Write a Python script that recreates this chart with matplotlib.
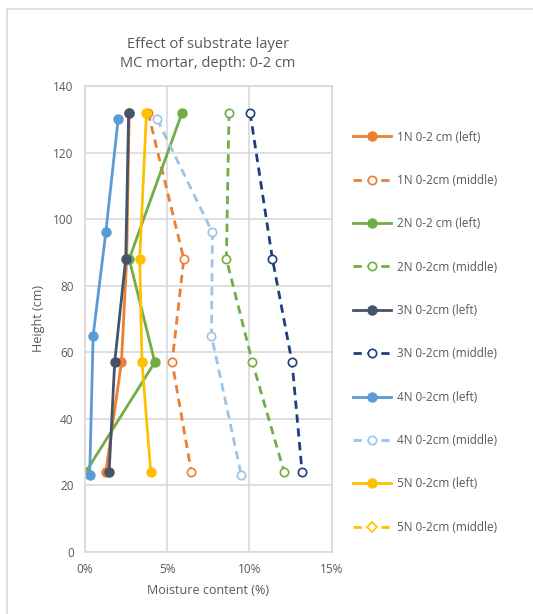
import matplotlib.pyplot as plt
from matplotlib.lines import Line2D
from matplotlib.ticker import FuncFormatter

plt.rcParams['font.family'] = ['Open Sans', 'DejaVu Sans']

# heights (cm) and moisture content (%)
h4 = [132, 88, 57, 24]
h_4n = [130, 96, 65, 23]

n1_left = [2.7, 2.55, 2.23, 1.28]
n1_mid = [3.85, 6.02, 5.31, 6.48]
n2_left = [5.92, 2.7, 4.26, 0.06]
n2_mid = [8.77, 8.61, 10.19, 12.12]
n3_left = [2.67, 2.49, 1.82, 1.48]
n3_mid = [10.05, 11.41, 12.6, 13.21]
n4_left = [2.03, 1.28, 0.51, 0.3]
n4_mid = [4.4, 7.76, 7.7, 9.52]
n5_left = [3.75, 3.34, 3.48, 4.01]
n5_mid = []
h_5mid = []

labels = ["1N 0-2 cm (left)", "1N 0-2cm (middle)", "2N 0-2 cm (left)", "2N 0-2cm (middle)",
          "3N 0-2cm (left)", "3N 0-2cm (middle)", "4N 0-2cm (left)", "4N 0-2cm (middle)",
          "5N 0-2cm (left)", "5N 0-2cm (middle)"]

fig = plt.figure(figsize=(5.33, 6.14), dpi=100)
ax = fig.add_axes([0.159, 0.101, 0.463, 0.759])

orange = "#ED7D31"
green = "#70AD47"
navy = "#44546A"
dnavy = "#1F3F7A"
lblue = "#5B9BD5"
llblue = "#9DC3E6"
yellow = "#FFC000"

solid = dict(lw=2, marker="o", ms=6.5)
dashed = dict(lw=2, ls=(0, (3, 2)), marker="o", ms=6, mfc="white", mew=1.2)

ax.plot(n1_left, h4, color=orange, label=labels[0], **solid)
ax.plot(n1_mid, h4, color=orange, label=labels[1], **dashed)
ax.plot(n2_left, h4, color=green, label=labels[2], **solid)
ax.plot(n2_mid, h4, color=green, label=labels[3], **dashed)
ax.plot(n3_left, h4, color=navy, label=labels[4], **solid)
ax.plot(n3_mid, h4, color=dnavy, label=labels[5], **dashed)
ax.plot(n4_left, h_4n, color=lblue, label=labels[6], **solid)
ax.plot(n4_mid, h_4n, color=llblue, label=labels[7], **dashed)
ax.plot(n5_left, h4, color=yellow, label=labels[8], **solid)
ax.plot(n5_mid, h_5mid, color=yellow, label=labels[9], lw=2, ls=(0, (3, 2)),
        marker="D", ms=5, mfc="white", mew=1.2)

ax.set_xlim(0, 15)
ax.set_ylim(0, 140)
ax.set_xticks([0, 5, 10, 15])
ax.set_yticks(range(0, 141, 20))
ax.xaxis.set_major_formatter(FuncFormatter(lambda v, p: "%d%%" % v))
ax.grid(True, color="#D9D9D9", lw=1.2)
ax.set_axisbelow(True)
for s in ax.spines.values():
    s.set_color("#D9D9D9")
    s.set_linewidth(1.2)
ax.tick_params(length=0, labelsize=8.5, colors="#595959", pad=8)
ax.set_xlabel("Moisture content (%)", fontsize=9, color="#595959", labelpad=6)
ax.set_ylabel("Height (cm)", fontsize=9, color="#595959", labelpad=6)
ax.set_title("Effect of substrate layer\nMC mortar, depth: 0-2 cm", fontsize=10.5,
             color="#595959", pad=14, linespacing=1.3)

leg = ax.legend(loc="upper left", bbox_to_anchor=(1.045, 0.927), frameon=False,
                fontsize=8.5, labelspacing=2.57, handlelength=3.2, handletextpad=0.5)
for t in leg.get_texts():
    t.set_color("#595959")

fig.add_artist(Line2D([7 / 533, 7 / 533], [0, 1 - 9 / 614], color="#D9D9D9", lw=1.2))
fig.add_artist(Line2D([7 / 533, 1], [1 - 9 / 614, 1 - 9 / 614], color="#D9D9D9", lw=1.2))

fig.savefig("out.png", dpi=100)
